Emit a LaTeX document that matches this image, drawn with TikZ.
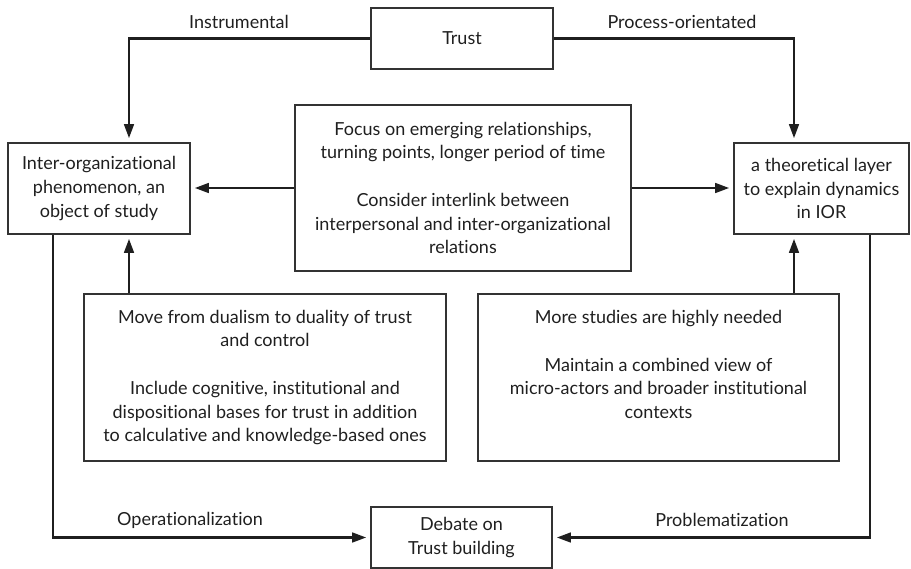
\documentclass[tikz,border=0pt]{standalone}
\usepackage{fontspec}
\setmainfont{Lato}[Ligatures=NoCommon]
\usetikzlibrary{arrows.meta,positioning}

\begin{document}
\begin{tikzpicture}[
        every node/.style={font=\fontsize{12.8}{16.9}\selectfont, text=black!88},
        cadre/.style={draw=black!80, line width=0.9pt, align=center, inner sep=0pt},%les boites
        fleche/.style={draw=black!88, line width=1.5pt, shorten >=3pt,
                -{Triangle[length=10pt,width=7pt]}},%les fleches
        etiq/.style={anchor=center}]
    \useasboundingbox (0,0) rectangle (22.775,-14.2);

    % colonnes des fleches verticales
    \coordinate (colG) at (3.225,0);
    \coordinate (colD) at (19.85,0);
    \coordinate (bordG) at (1.325,0);
    \coordinate (bordD) at (21.75,0);

    \node (trust) [cadre, minimum width=4.55cm, minimum height=1.525cm] at (11.55,-0.9625) {Trust};

    \node (objet) [cadre, minimum width=4.55cm, minimum height=2.275cm] at (2.475,-4.7125)
        {Inter-organizational\\phenomenon, an\\object of study};

    \node (couche) [cadre, minimum width=4.375cm, minimum height=2.275cm] at (20.5375,-4.7125)
        {a theoretical layer\\to explain dynamics\\in IOR};

    \node (focus) [cadre, minimum width=8.4cm, minimum height=4.15cm] at (11.575,-4.7)
        {Focus on emerging relationships,\\turning points, longer period of time\\[\baselineskip]
         Consider interlink between\\interpersonal and inter-organizational\\relations};

    \node (dualite) [cadre, minimum width=9.05cm, minimum height=4.175cm] at (6.625,-9.4375)
        {Move from dualism to duality of trust\\and control\\[\baselineskip]
         Include cognitive, institutional and\\dispositional bases for trust in addition\\to calculative and knowledge-based ones};

    \node (etudes) [cadre, minimum width=9.025cm, minimum height=4.175cm] at (16.4625,-9.4375) {};
    \node (etudestxt) [below=0.3cm of etudes.north, align=center]
        {More studies are highly needed\\[\baselineskip]
         Maintain a combined view of\\micro-actors and broader institutional\\contexts};

    \node (debat) [cadre, minimum width=4.525cm, minimum height=1.525cm] at (11.5375,-13.4375)
        {Debate on\\Trust building};

    % fleches
    \draw[fleche] (trust.west) -| (colG |- objet.north);
    \draw[fleche] (trust.east) -| (colD |- couche.north);
    \draw[fleche] (focus.west) -- (focus.west -| objet.east);
    \draw[fleche] (focus.east) -- (focus.east -| couche.west);
    \draw[fleche] (colG |- dualite.north) -- (colG |- objet.south);
    \draw[fleche] (colD |- etudes.north) -- (colD |- couche.south);
    \draw[fleche] (bordG |- objet.south) |- (debat.west);
    \draw[fleche] (bordD |- couche.south) |- (debat.east);

    % etiquettes
    \node (instr) [etiq] at (5.975,-0.55) {Instrumental};
    \node (proc) [etiq] at (17.05,-0.55) {Process-orientated};
    \node (oper) [etiq] at (4.75,-13.0) {Operationalization};
    \node (probl) [etiq] at (18.05,-13.0) {Problematization};
\end{tikzpicture}
\end{document}
